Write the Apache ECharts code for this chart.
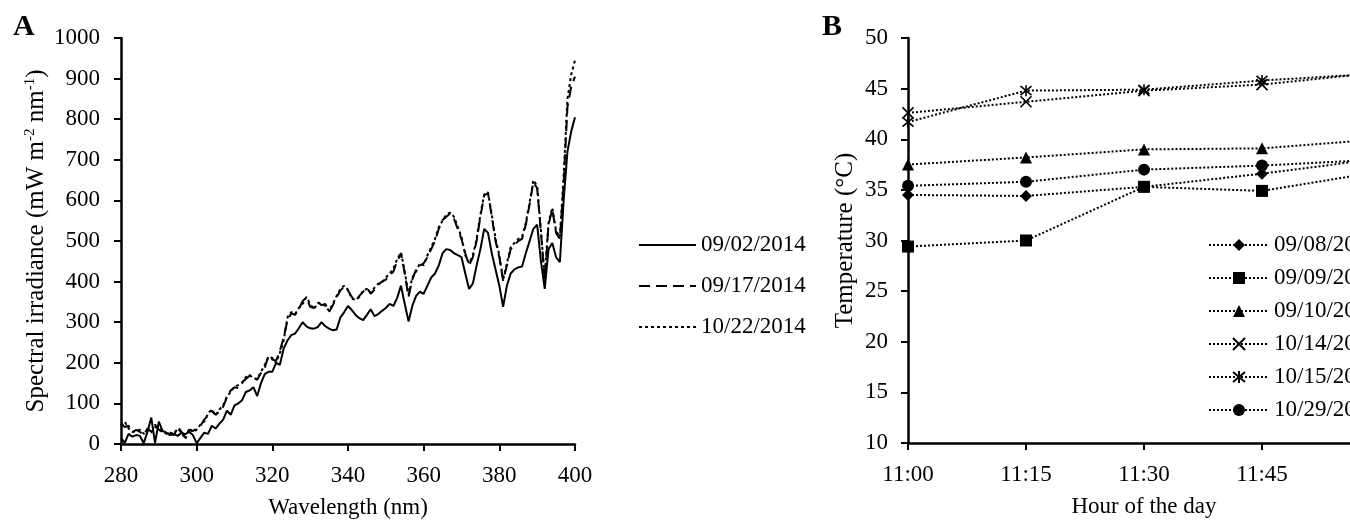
<!DOCTYPE html>
<html><head><meta charset="utf-8">
<script src="https://cdn.jsdelivr.net/npm/echarts@6/dist/echarts.min.js"></script>
<style>html,body{margin:0;padding:0;background:#fff}#c{width:1350px;height:525px}</style>
</head><body><div id="c"></div>
<script>
// ---------- Panel A data ----------
const wavelength = [280,281,282,283,284,285,286,287,288,289,
290,291,292,293,294,295,296,297,298,299,
300,301,302,303,304,305,306,307,308,309,
310,311,312,313,314,315,316,317,318,319,
320,321,322,323,324,325,326,327,328,329,
330,331,332,333,334,335,336,337,338,339,
340,341,342,343,344,345,346,347,348,349,
350,351,352,353,354,355,356,357,358,359,
360,361,362,363,364,365,366,367,368,369,
370,371,372,373,374,375,376,377,378,379,
380,381,382,383,384,385,386,387,388,389,
390,391,392,393,394,395,396,397,398,399,
400];
const irr0902 = [15,3,25,18,22,20,2,30,65,3,
55,32,28,22,25,20,28,24,30,22,
2,15,28,25,45,38,50,60,82,72,
95,100,108,128,132,140,118,150,172,178,
178,200,195,235,255,268,272,285,300,290,
285,284,288,300,290,284,280,282,312,325,
340,330,318,310,305,318,332,315,320,328,
335,345,340,360,390,345,302,340,365,375,
370,390,410,420,440,470,480,478,470,465,
460,420,382,395,440,480,530,520,470,430,
390,338,390,420,430,435,437,470,500,530,
540,450,382,480,495,460,448,600,720,770,
805];
const irr0917 = [50,42,45,28,35,30,22,38,30,48,
35,30,28,25,22,42,30,15,35,32,
38,45,60,70,82,72,80,92,115,132,
140,138,152,160,168,165,158,175,188,218,
208,205,230,262,305,322,318,332,352,360,
338,335,350,342,345,325,342,362,378,388,
378,362,352,365,375,385,370,380,392,400,
405,415,425,450,470,420,362,405,430,440,
445,460,480,500,530,552,560,568,555,530,
505,470,440,460,500,560,612,618,560,500,
460,402,440,480,490,500,505,540,590,645,
630,520,405,540,578,520,505,640,830,880,
905];
const irr1022 = [45,55,38,30,32,35,25,35,28,42,
38,32,25,28,25,38,28,12,38,30,
35,48,55,75,85,70,85,95,118,128,
142,145,150,165,170,162,160,178,195,215,
212,200,225,255,312,325,320,335,345,362,
345,332,348,345,340,328,345,365,382,390,
380,358,355,362,378,382,372,385,395,398,
410,420,432,455,472,425,368,410,425,445,
440,465,485,505,535,550,565,570,560,535,
510,465,445,465,505,565,615,620,565,505,
465,405,445,485,495,505,510,545,595,650,
635,525,410,545,582,525,510,660,850,910,
945];
const namesA = ['09/02/2014','09/17/2014','10/22/2014'];

// ---------- Panel B data ----------
const hours = ['11:00','11:15','11:30','11:45','12:00'];
const t0908 = [34.5, 34.4, 35.3, 36.6, 38.1];
const t0909 = [29.4, 30.0, 35.3, 34.9, 36.8];
const t0910 = [37.5, 38.2, 39.0, 39.1, 40.0];
const t1014 = [42.6, 43.7, 44.8, 45.4, 46.6];
const t1015 = [41.7, 44.8, 44.9, 45.8, 46.5];
const t1029 = [35.4, 35.8, 37.0, 37.4, 38.0];
const namesB = ['09/08/2014','09/09/2014','09/10/2014','10/14/2014','10/15/2014','10/29/2014'];

const FF = "'Liberation Serif','Times New Roman',serif";
const K = '#000';
const pairs = arr => wavelength.map((w, i) => [w, arr[i]]);

const axisLineS = {show: true, lineStyle: {color: K, width: 2.5}};
const axisTickS = {show: true, inside: false, length: 7, lineStyle: {color: K, width: 2}};
const labelS = (m) => ({color: K, fontFamily: FF, fontSize: 23, margin: m, formatter: v => String(v)});

const crossPath = 'path://M0,0L10,10M10,0L0,10';
const starPath = 'path://M0,0L10,10M10,0L0,10M5,-1L5,11';

function lineA(name, data, type) {
  return {
    name, type: 'line', xAxisIndex: 0, yAxisIndex: 0, data: pairs(data),
    symbol: 'none', smooth: false,
    lineStyle: {color: K, width: 2, type: type},
    itemStyle: {color: K}
  };
}
function lineB(name, data, symbol, size, stroke) {
  return {
    name, type: 'line', xAxisIndex: 1, yAxisIndex: 1, data,
    symbol, symbolSize: size, showSymbol: true,
    lineStyle: {color: K, width: 2, type: [2, 2]},
    itemStyle: stroke ? {color: K, borderColor: K, borderWidth: 1.6} : {color: K, borderWidth: 0}
  };
}

const chart = echarts.init(document.getElementById('c'), null, {renderer: 'canvas'});
chart.setOption({
  animation: false,
  backgroundColor: '#fff',
  grid: [
    {left: 121, width: 454, top: 38, height: 406, containLabel: false, outerBoundsMode: 'none'},
    {left: 908, width: 472, top: 38, height: 405, containLabel: false, outerBoundsMode: 'none'}
  ],
  xAxis: [
    {type: 'value', gridIndex: 0, min: 280, max: 400, interval: 20,
     axisLine: axisLineS, axisTick: axisTickS, axisLabel: labelS(20), splitLine: {show: false},
     name: 'Wavelength (nm)', nameLocation: 'middle', nameGap: 52,
     nameTextStyle: {color: K, fontFamily: FF, fontSize: 23}},
    {type: 'category', gridIndex: 1, data: hours, boundaryGap: false,
     axisLine: axisLineS, axisTick: {...axisTickS, alignWithLabel: true}, axisLabel: {color: K, fontFamily: FF, fontSize: 23, margin: 20}, splitLine: {show: false},
     name: 'Hour of the day', nameLocation: 'middle', nameGap: 52,
     nameTextStyle: {color: K, fontFamily: FF, fontSize: 23}}
  ],
  yAxis: [
    {type: 'value', gridIndex: 0, min: 0, max: 1000, interval: 100,
     axisLine: axisLineS, axisTick: axisTickS, axisLabel: labelS(21), splitLine: {show: false},
     name: 'Spectral irradiance (mW m{sup|-2} nm{sup|-1})', nameLocation: 'middle', nameRotate: 90, nameGap: 63,
     nameTextStyle: {color: K, fontFamily: FF, fontSize: 25, lineHeight: 28,
       rich: {sup: {color: K, fontFamily: FF, fontSize: 15, lineHeight: 14, verticalAlign: 'top'}}}},
    {type: 'value', gridIndex: 1, min: 10, max: 50, interval: 5,
     axisLine: axisLineS, axisTick: axisTickS, axisLabel: labelS(20), splitLine: {show: false},
     name: 'Temperature (°C)', nameLocation: 'middle', nameRotate: 90, nameGap: 50,
     nameTextStyle: {color: K, fontFamily: FF, fontSize: 25}}
  ],
  legend: [
    {orient: 'vertical', left: 633, top: 228, itemWidth: 57, itemHeight: 14, itemGap: 17,
     data: namesA, selectedMode: false,
     itemStyle: {color: 'rgba(0,0,0,0)', borderWidth: 0, opacity: 0},
     textStyle: {color: K, fontFamily: FF, fontSize: 23, lineHeight: 24}},
    {orient: 'vertical', left: 1203, top: 228, itemWidth: 60, itemHeight: 15, itemGap: 9,
     data: namesB, selectedMode: false,
     textStyle: {color: K, fontFamily: FF, fontSize: 23, lineHeight: 24}}
  ],
  graphic: [
    {type: 'text', left: 13, top: 12, style: {text: 'A', font: "bold 30px 'Liberation Serif', serif", fill: K}},
    {type: 'text', left: 822, top: 12, style: {text: 'B', font: "bold 30px 'Liberation Serif', serif", fill: K}}
  ],
  series: [
    lineA(namesA[0], irr0902, 'solid'),
    lineA(namesA[1], irr0917, [11, 6]),
    lineA(namesA[2], irr1022, [3, 3]),
    lineB(namesB[0], t0908, 'diamond', 12, false),
    lineB(namesB[1], t0909, 'rect', 12, false),
    lineB(namesB[2], t0910, 'triangle', 12, false),
    lineB(namesB[3], t1014, crossPath, 11, true),
    lineB(namesB[4], t1015, starPath, 11, true),
    lineB(namesB[5], t1029, 'circle', 12, false)
  ]
});
</script>
</body></html>
